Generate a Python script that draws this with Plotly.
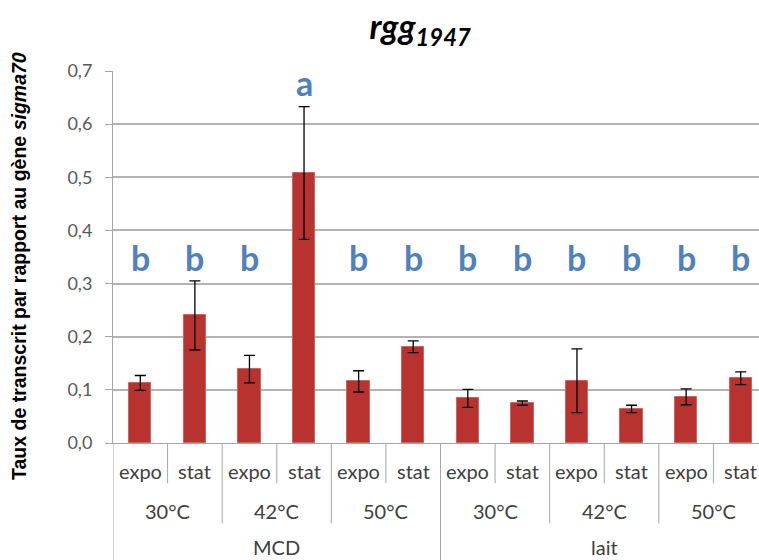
import plotly.graph_objects as go

# Expression data: one bar per (medium, temperature, phase)
media = ["MCD", "lait"]
temperatures = ["30°C", "42°C", "50°C"]
phases = ["expo", "stat"]

values = [0.113, 0.240, 0.139, 0.508, 0.116, 0.181,
          0.084, 0.075, 0.117, 0.064, 0.087, 0.122]
errors = [0.014, 0.065, 0.026, 0.125, 0.020, 0.011,
          0.017, 0.004, 0.060, 0.007, 0.015, 0.012]
groups = ["b", "b", "b", "a", "b", "b", "b", "b", "b", "b", "b", "b"]
group_heights = {"a": 0.678, "b": 0.35}

y_ticks = [0.0, 0.1, 0.2, 0.3, 0.4, 0.5, 0.6, 0.7]
y_ticktext = [f"{v:.1f}".replace(".", ",") for v in y_ticks]

n = len(values)
xs = list(range(n))

TEXT = "#404040"
LINE = "#A6A6A6"
BLUE = "#4F81BD"
FONT = "Lato"

fig = go.Figure()
fig.add_trace(go.Bar(
    x=xs, y=values, width=0.41,
    marker=dict(color="#B8332F", line=dict(color="#D4625C", width=1)),
    error_y=dict(type="data", array=errors, visible=True,
                 color="black", thickness=1.3, width=5.5),
    hoverinfo="y",
))

annotations = []
shapes = []

# Significance letters above the bars
for i, g in enumerate(groups):
    annotations.append(dict(
        x=i, y=group_heights[g], xref="x", yref="y", text=g,
        showarrow=False, yanchor="middle",
        font=dict(family=FONT, size=34, color=BLUE, weight="bold"),
    ))

# Three-level category axis drawn below the plot area
ROW1, ROW2, ROW3 = -0.0745, -0.182, -0.279
SEP1, SEP2, SEP3 = -0.1083, -0.2159, -0.33
lab_font = dict(family=FONT, size=20, color=TEXT)

for i in range(n):
    annotations.append(dict(x=i, y=ROW1, xref="x", yref="paper",
                            text=phases[i % 2], showarrow=False,
                            yanchor="middle", font=lab_font))
for k in range(n // 2):
    annotations.append(dict(x=2 * k + 0.5, y=ROW2, xref="x", yref="paper",
                            text=temperatures[k % 3], showarrow=False,
                            yanchor="middle", font=lab_font))
for m, name in enumerate(media):
    annotations.append(dict(x=6 * m + 2.5, y=ROW3, xref="x", yref="paper",
                            text=name, showarrow=False,
                            yanchor="middle", font=lab_font))

for b in range(n + 1):
    pos = b - 0.5
    if b % 6 == 0:
        y1 = SEP3
    elif b % 2 == 0:
        y1 = SEP2
    else:
        y1 = SEP1
    shapes.append(dict(type="line", xref="x", yref="paper",
                       x0=pos, x1=pos, y0=0, y1=y1,
                       line=dict(color=LINE, width=1)))

# Y axis title with italic gene name
annotations.append(dict(
    x=-0.1455, y=0.4758, xref="paper", yref="paper",
    text="<b>Taux de transcrit par rapport au gène <i>sigma70</i></b>",
    textangle=-90, showarrow=False, xanchor="center", yanchor="middle",
    font=dict(family="Liberation Sans", size=19.5, color="black"),
))

fig.update_layout(
    width=759, height=560,
    margin=dict(l=113, r=0, t=71, b=117),
    paper_bgcolor="white", plot_bgcolor="white",
    showlegend=False,
    bargap=0,
    title=dict(
        text="<b><i>rgg</i></b><sub><b><i>1947</i></b></sub>",
        x=0.5535, xanchor="center", xref="container",
        y=1 - 27 / 560, yanchor="middle", yref="container",
        font=dict(family=FONT, size=34, color="black"),
    ),
    xaxis=dict(range=[-0.5, 11.335], showticklabels=False, ticks="",
               showgrid=False, zeroline=False, showline=True,
               linecolor=LINE, linewidth=1, fixedrange=True),
    yaxis=dict(range=[0, 0.7], tickvals=y_ticks, ticktext=y_ticktext,
               ticks="outside", ticklen=7, tickcolor=LINE, tickwidth=1,
               ticklabelstandoff=9,
               tickfont=dict(family=FONT, size=18, color="#595959"),
               showgrid=True, gridcolor="#B3B3B3", gridwidth=1.5,
               zeroline=False, showline=True, linecolor=LINE, linewidth=1),
    annotations=annotations,
    shapes=shapes,
)

fig.write_html("out.html")
